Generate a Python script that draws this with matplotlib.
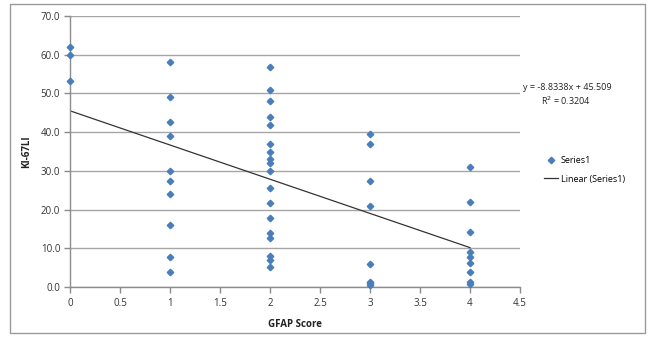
import matplotlib
matplotlib.use("Agg")
import matplotlib.pyplot as plt
from matplotlib.patches import Rectangle
import numpy as np

# GFAP score groups and Ki-67 LI values
x0 = [0, 0, 0]
y0 = [62.0, 60.0, 53.1]
x1 = [1] * 10
y1 = [58.1, 49.0, 42.7, 39.0, 30.0, 27.3, 24.0, 16.0, 7.7, 3.8]
x2 = [2] * 18
y2 = [56.9, 50.9, 48.1, 44.0, 41.9, 36.9, 35.0, 33.0, 32.0, 30.0,
      25.7, 21.6, 17.9, 14.0, 12.7, 8.0, 7.0, 5.2]
x3 = [3] * 8
y3 = [39.5, 36.9, 27.3, 20.9, 5.9, 1.4, 1.0, 0.5]
x4 = [4] * 9
y4 = [31.0, 21.9, 14.3, 9.1, 7.8, 6.1, 3.8, 1.2, 0.7]

# trend line coefficients as printed
slope = -8.8338
intercept = 45.509
r2 = 0.3204

xticks = [0, 0.5, 1, 1.5, 2, 2.5, 3, 3.5, 4, 4.5]
yticks = [0, 10, 20, 30, 40, 50, 60, 70]

xs = np.array(x0 + x1 + x2 + x3 + x4, dtype=float)
ys = np.array(y0 + y1 + y2 + y3 + y4, dtype=float)

plt.rcParams['font.family'] = ['Open Sans', 'DejaVu Sans']

W, H = 648, 339
fig = plt.figure(figsize=(W / 100, H / 100), dpi=100)
fig.patch.set_facecolor('white')

# outer chart border
fig.add_artist(Rectangle((10 / W, 1 - 333 / H), (645 - 10) / W, (333 - 4) / H,
                         transform=fig.transFigure, fill=False,
                         edgecolor='#9a9a9a', linewidth=1.0))

ax = fig.add_axes([70 / W, 1 - 287 / H, (520 - 70) / W, (287 - 16) / H])
ax.set_xlim(0, 4.5)
ax.set_ylim(0, 70)
ax.set_xticks(xticks)
ax.set_xticklabels([f"{t:g}" for t in xticks])
ax.set_yticks(yticks)
ax.set_yticklabels([f"{t:.1f}" for t in yticks])

ax.grid(axis='y', color='#a6a6a6', linewidth=1.0)
ax.set_axisbelow(True)
for s in ['top', 'right']:
    ax.spines[s].set_visible(False)
for s in ['left', 'bottom']:
    ax.spines[s].set_color('#8c8c8c')
    ax.spines[s].set_linewidth(1.0)
ax.tick_params(axis='both', colors='#8c8c8c', labelcolor='#333333',
               labelsize=7, length=4, width=1.0, direction='out')
ax.tick_params(axis='x', pad=4)
ax.tick_params(axis='y', pad=3)

sc, = ax.plot(xs, ys, linestyle='none', marker='D', markersize=3.3,
              color='#4a7ebb', markeredgecolor='#4a7ebb', label='Series1',
              clip_on=False, zorder=3)
xl = np.array([xs.min(), xs.max()])
ln, = ax.plot(xl, slope * xl + intercept, color='#333333', linewidth=0.9,
              label='Linear (Series1)', zorder=2)

ax.set_xlabel('GFAP Score', fontsize=7, fontweight='bold', color='#222222',
              labelpad=7)
ax.set_ylabel('KI-67LI', fontsize=7, fontweight='bold', color='#222222',
              labelpad=6)

fig.text(567 / W, 1 - 88 / H, f"y = {slope:.4f}x + {intercept:.3f}",
         fontsize=6.5, ha='center', va='center', color='#222222')
fig.text(566 / W, 1 - 101 / H, f"R$^2$ = {r2:.4f}",
         fontsize=6.5, ha='center', va='center', color='#222222')

fig.legend(handles=[sc, ln], loc='center left',
           bbox_to_anchor=(540 / W, 1 - 170 / H), frameon=False,
           fontsize=6.5, handlelength=1.6, handletextpad=0.3,
           labelspacing=1.0, borderaxespad=0)

fig.savefig('out.png', dpi=100)
